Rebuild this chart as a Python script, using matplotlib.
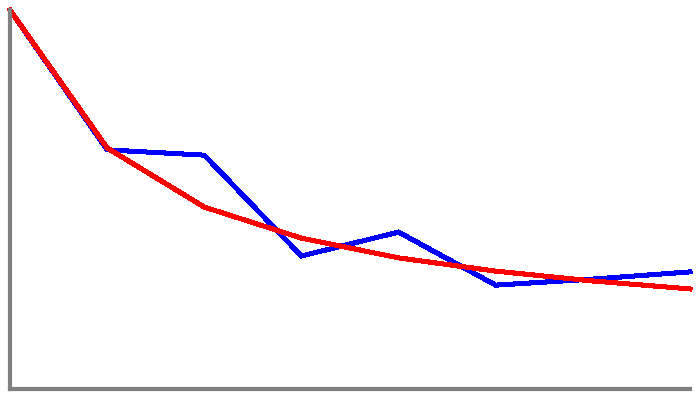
import matplotlib
matplotlib.use("Agg")
import matplotlib.pyplot as plt

steps = list(range(8))
blue_vals = [100, 63.1, 61.7, 35.1, 41.4, 27.4, 29.0, 30.9]
red_vals = [100, 63.6, 48.0, 39.8, 34.6, 31.1, 28.5, 26.4]

fig = plt.figure(figsize=(7, 4), dpi=100)
ax = fig.add_axes([10 / 700, 11 / 400, 680 / 700, 379 / 400])

ax.plot(steps, blue_vals, color="blue", linewidth=2.9, clip_on=False,
        antialiased=False, solid_joinstyle="miter")
ax.plot(steps, red_vals, color="red", linewidth=2.9, clip_on=False,
        antialiased=False, solid_joinstyle="miter")

ax.set_xlim(0, 7)
ax.set_ylim(0, 100)
ax.set_xticks([])
ax.set_yticks([])
for side in ["top", "right"]:
    ax.spines[side].set_visible(False)
for side in ["left", "bottom"]:
    ax.spines[side].set_color("gray")
    ax.spines[side].set_linewidth(3)

fig.savefig("out.png", dpi=100)
